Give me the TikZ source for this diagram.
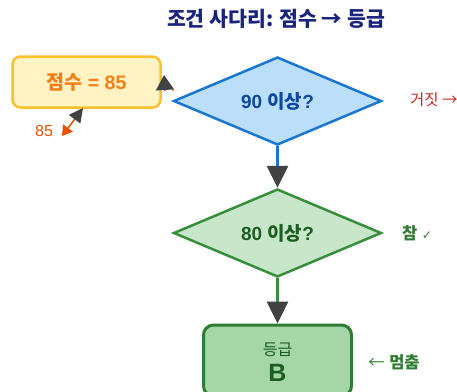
\documentclass[tikz,border=0pt]{standalone}
\usepackage{fontspec}
\setmainfont{Liberation Sans}
\newfontfamily\kr{Noto Sans CJK KR}
\newfontfamily\dv{DejaVu Sans}
\usetikzlibrary{shapes.geometric,arrows.meta}
\definecolor{navy}{HTML}{1A237E}
\definecolor{yfill}{HTML}{FFF3C4}
\definecolor{ybord}{HTML}{FBC02D}
\definecolor{ytext}{HTML}{F57F17}
\definecolor{bfill}{HTML}{BBDEFB}
\definecolor{bbord}{HTML}{1976D2}
\definecolor{btext}{HTML}{0D47A1}
\definecolor{gfill}{HTML}{C8E6C9}
\definecolor{gbord}{HTML}{388E3C}
\definecolor{gtext}{HTML}{1B5E20}
\definecolor{g2fill}{HTML}{A5D6A7}
\definecolor{g2bord}{HTML}{2E7D32}
\definecolor{arrgray}{HTML}{424242}
\definecolor{redlab}{HTML}{C62828}
\definecolor{orline}{HTML}{E65100}
\tikzset{
  titlestyle/.style={text=navy, font=\kr\bfseries\fontsize{20.5}{24}\selectfont},
  ybox/.style={rectangle, rounded corners=8pt, draw=ybord, line width=2.5pt, fill=yfill,
    minimum width=148pt, minimum height=51pt, text=ytext, font=\bfseries\fontsize{19.5}{22}\selectfont},
  decision/.style={diamond, aspect=2.36, minimum width=208pt, minimum height=88pt,
    inner sep=1pt, line width=2.5pt, font=\bfseries\fontsize{19}{22}\selectfont},
  dblue/.style={decision, draw=bbord, fill=bfill, text=btext},
  dgreen/.style={decision, draw=gbord, fill=gfill, text=gtext},
  gradebox/.style={rectangle, rounded corners=10pt, draw=g2bord, line width=3pt, fill=g2fill,
    minimum width=148pt, minimum height=71pt, text=gtext, align=center, inner sep=0pt,
    font=\fontsize{16}{26}\selectfont},
  sidelab/.style={anchor=west, inner sep=0pt, font=\fontsize{16.5}{18}\selectfont},
  bigtip/.style={-{Triangle[length=22pt,width=21pt,color=arrgray]}},
  flow/.style={line width=3pt, bigtip}
}
\begin{document}
\begin{tikzpicture}[x=1pt,y=-1pt]
\useasboundingbox (0,0) rectangle (457,391);
\clip (0,0) rectangle (457,391);

\node[titlestyle] (title) at (276,19) {조건 사다리: 점수 → 등급};

\node[ybox] (score) at (86.5,82) {{\kr 점수} = 85};
\node[dblue] (q90) at (277.5,101) {90 {\kr 이상}?};
\node[dgreen] (q80) at (277.5,233) {80 {\kr 이상}?};
\node[gradebox] (grade) at (277.5,360.5) {\kr\rule{0pt}{15pt}등급\\{\normalfont\bfseries\fontsize{25}{26}\selectfont B}};

\node[sidelab, text=redlab, font=\fontsize{15.5}{18}\selectfont] (falselab) at (410,100) {\kr 거짓 →};
\node[sidelab, text=g2bord] (truelab) at (402,233) {{\kr\bfseries 참} {\dv\fontsize{12}{13}\selectfont ✓}};
\node[sidelab, text=g2bord] (stoplab) at (368,362) {{\kr ←} {\kr\bfseries 멈춤}};
\node[sidelab, text=orline, font=\fontsize{16}{18}\selectfont] (inlab) at (35,131) {85};

\draw[flow, draw=bbord] (q90.south) -- (q80.north);
\draw[flow, draw=gbord] (q80.south) -- (grade.north);

\coordinate (a3s) at (165,91);
\coordinate (a3e) at (164,75);
\draw[line width=1.5pt, draw=orline, -{Triangle[length=15pt,width=18pt,color=arrgray]}] (a3s) -- (a3e);
\fill[orline] (173,90) circle (1pt);

\coordinate (a4s) at (62,136);
\coordinate (a4e) at (83,108);
\draw[line width=1.5pt, draw=orline,
  {Triangle[length=10pt,width=12pt,color=orline]}-{Triangle[length=14pt,width=14pt,color=arrgray]}] (a4s) -- (a4e);
\end{tikzpicture}
\end{document}
